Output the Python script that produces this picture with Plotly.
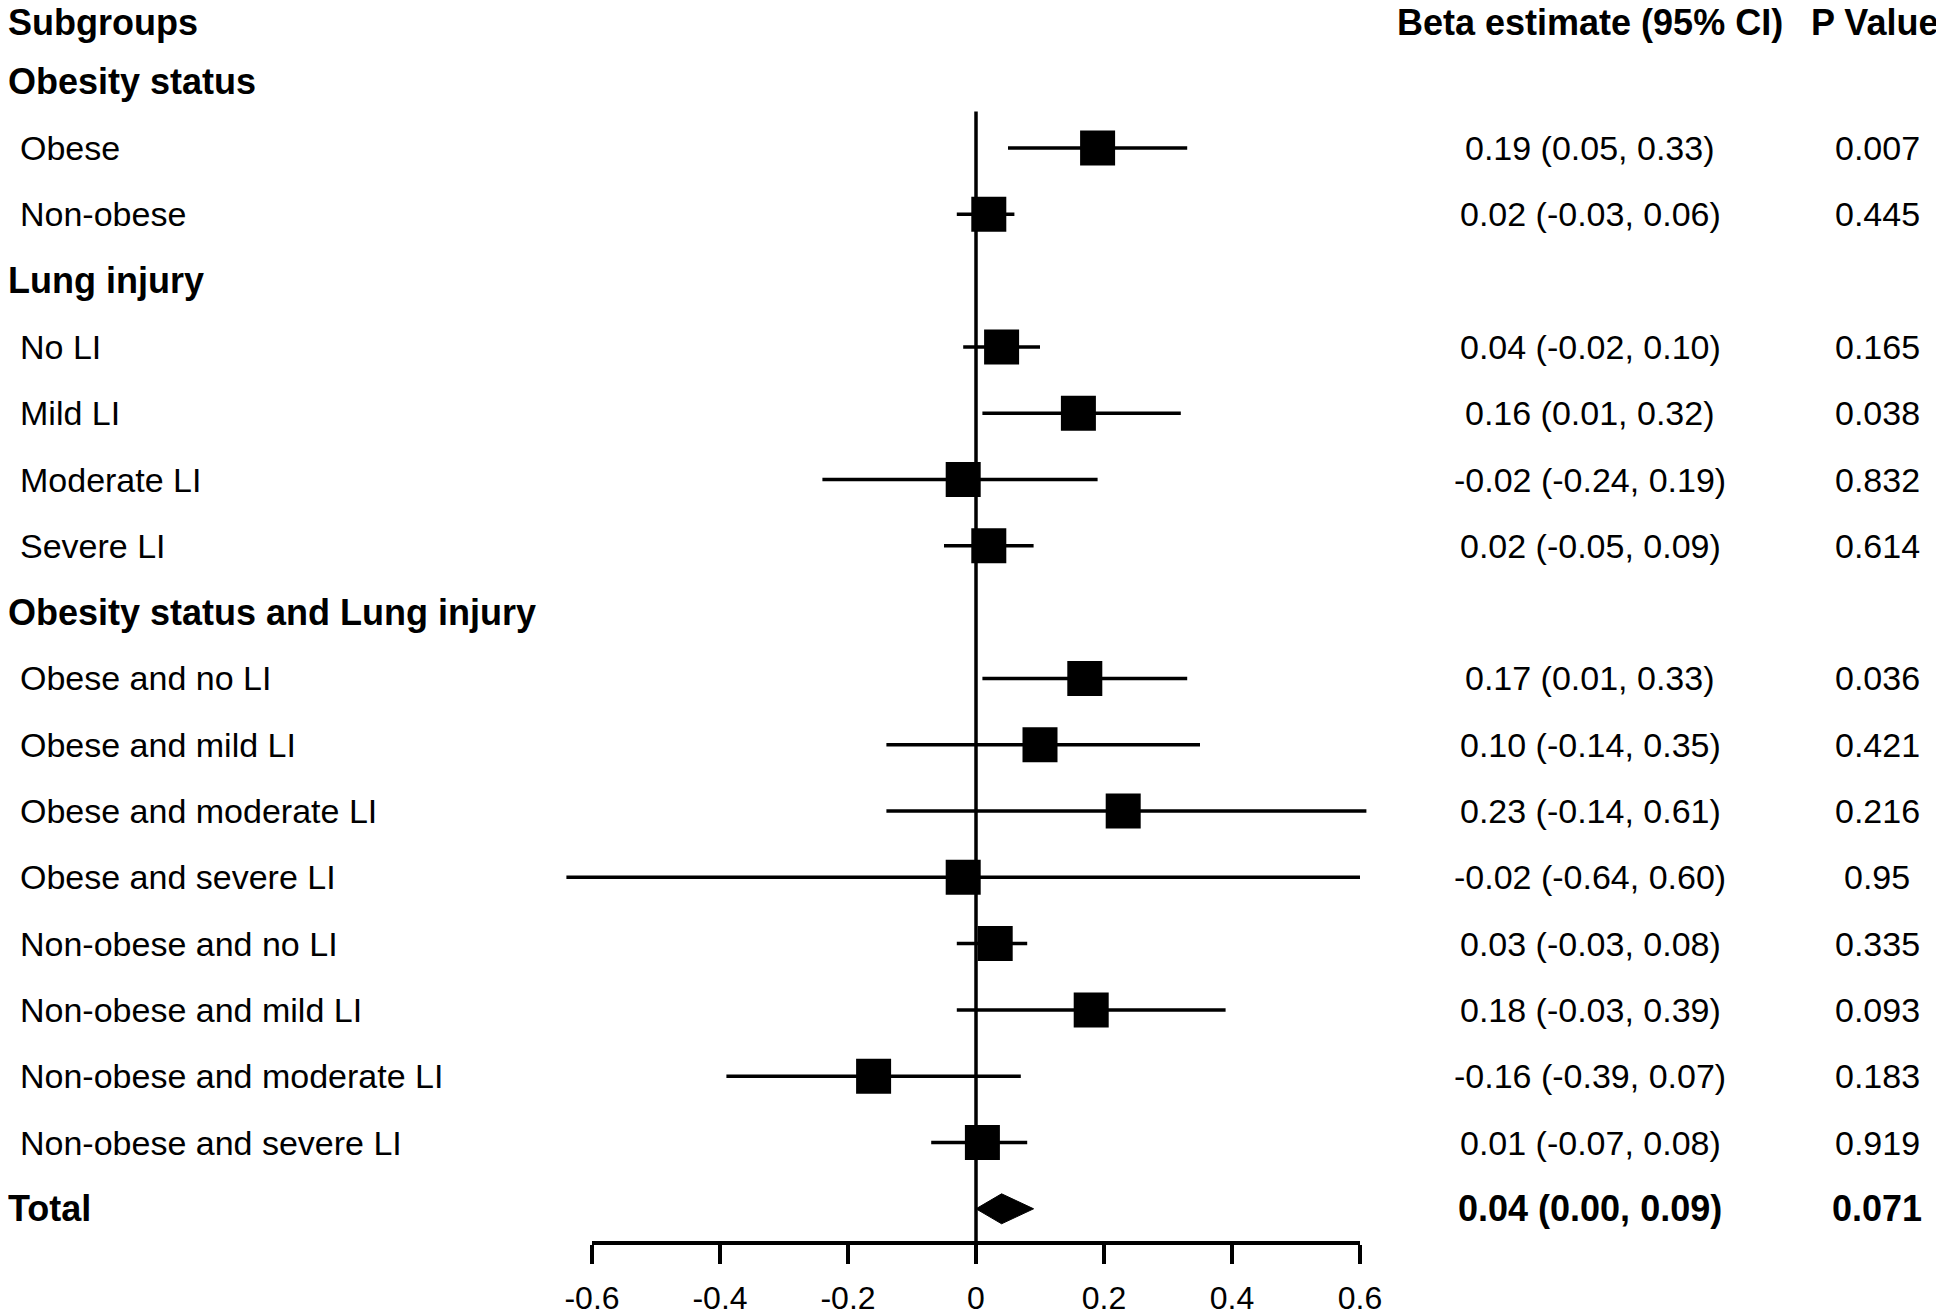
import plotly.graph_objects as go

# ---------------- data ----------------
group_titles = ["Obesity status", "Lung injury", "Obesity status and Lung injury"]
group_sizes = [2, 4, 8]

subgroups = ["Obese", "Non-obese",
             "No LI", "Mild LI", "Moderate LI", "Severe LI",
             "Obese and no LI", "Obese and mild LI", "Obese and moderate LI",
             "Obese and severe LI", "Non-obese and no LI", "Non-obese and mild LI",
             "Non-obese and moderate LI", "Non-obese and severe LI"]
estimate = [0.19, 0.02, 0.04, 0.16, -0.02, 0.02, 0.17, 0.10, 0.23, -0.02, 0.03, 0.18, -0.16, 0.01]
ci_low = [0.05, -0.03, -0.02, 0.01, -0.24, -0.05, 0.01, -0.14, -0.14, -0.64, -0.03, -0.03, -0.39, -0.07]
ci_high = [0.33, 0.06, 0.10, 0.32, 0.19, 0.09, 0.33, 0.35, 0.61, 0.60, 0.08, 0.39, 0.07, 0.08]
p_values = ["0.007", "0.445", "0.165", "0.038", "0.832", "0.614", "0.036", "0.421",
            "0.216", "0.95", "0.335", "0.093", "0.183", "0.919"]

total_label = "Total"
total_est, total_low, total_high = 0.04, 0.00, 0.09
total_p = "0.071"

tick_vals = [-0.6, -0.4, -0.2, 0, 0.2, 0.4, 0.6]
tick_text = ["-0.6", "-0.4", "-0.2", "0", "0.2", "0.4", "0.6"]

header_left = "Subgroups"
header_ci = "Beta estimate (95% CI)"
header_p = "P Value"

# ---------------- layout helpers ----------------
W, H = 1944, 1312
OFF = 8  # page body margin compensation
FONT = "Liberation Sans, Arial, sans-serif"
reg = dict(family=FONT, size=34, color="black")
bold = dict(family=FONT, size=36, color="black")

rows_item = []
rows_header = []
r = 1
for title, n in zip(group_titles, group_sizes):
    rows_header.append(r)
    r += 1
    for _ in range(n):
        rows_item.append(r)
        r += 1
row_total = r

def fmt(e, lo, hi):
    return f"{e:.2f} ({lo:.2f}, {hi:.2f})"

fig = go.Figure()

# CI lines
xs, ys = [], []
for lo, hi, rr in zip(ci_low, ci_high, rows_item):
    xs += [lo, hi, None]
    ys += [rr, rr, None]
fig.add_trace(go.Scatter(x=xs, y=ys, mode="lines", line=dict(color="black", width=3.5),
                         hoverinfo="skip", showlegend=False))

# zero reference line
fig.add_trace(go.Scatter(x=[0, 0], y=[rows_item[0] - 0.55, row_total + 1.3], mode="lines",
                         line=dict(color="black", width=3.5), hoverinfo="skip", showlegend=False))

# squares
fig.add_trace(go.Scatter(x=estimate, y=rows_item, mode="markers",
                         marker=dict(symbol="square", size=35, color="black", line=dict(width=0)),
                         hoverinfo="skip", showlegend=False))

# diamond for total
h = 0.226
fig.add_trace(go.Scatter(x=[total_low, total_est, total_high, total_est, total_low],
                         y=[row_total, row_total - h, row_total, row_total + h, row_total],
                         mode="lines", fill="toself", fillcolor="black",
                         line=dict(color="black", width=1), hoverinfo="skip", showlegend=False))

# invisible trace for the visible axis
fig.add_trace(go.Scatter(x=tick_vals, y=[row_total + 1] * len(tick_vals), xaxis="x2", yaxis="y",
                         mode="markers", marker=dict(opacity=0), hoverinfo="skip", showlegend=False))

ann = []
def add_text(text, x_px, row, font, anchor, yshift=0):
    ann.append(dict(text=text, x=x_px / W, xref="paper", y=row, yref="y",
                    xanchor=anchor, yanchor="middle", showarrow=False, font=font,
                    yshift=yshift))

left_bold_px = -2
left_item_px = 10
ci_px = 1590 - OFF
p_px = 1877 - OFF

add_text(f"<b>{header_left}</b>", left_bold_px, 0, bold, "left", yshift=-7)
add_text(f"<b>{header_ci}</b>", ci_px, 0, bold, "center", yshift=-7)
add_text(f"<b>{header_p}</b>", p_px - 3, 0, bold, "center", yshift=-7)
for t, rr in zip(group_titles, rows_header):
    add_text(f"<b>{t}</b>", left_bold_px, rr, bold, "left")
for name, e, lo, hi, p, rr in zip(subgroups, estimate, ci_low, ci_high, p_values, rows_item):
    add_text(name, left_item_px, rr, reg, "left")
    add_text(fmt(e, lo, hi), ci_px, rr, reg, "center")
    add_text(p, p_px, rr, reg, "center")
add_text(f"<b>{total_label}</b>", left_bold_px, row_total, bold, "left")
add_text(f"<b>{fmt(total_est, total_low, total_high)}</b>", ci_px, row_total, bold, "center")
add_text(f"<b>{total_p}</b>", p_px, row_total, bold, "center")

x0_px, px_per_unit = 976 - OFF, 640
row0_px, px_per_row = 15.4 - OFF, 66.3
axis_px = 1241 - OFF

fig.update_layout(
    width=W, height=H,
    margin=dict(l=0, r=0, t=0, b=0, autoexpand=False),
    paper_bgcolor="white", plot_bgcolor="rgba(0,0,0,0)",
    showlegend=False,
    annotations=ann,
    xaxis=dict(domain=[0, 1], range=[-x0_px / px_per_unit, (W - x0_px) / px_per_unit],
               visible=False, fixedrange=True),
    xaxis2=dict(domain=[(x0_px - 0.6 * px_per_unit) / W, (x0_px + 0.6 * px_per_unit) / W],
                anchor="y", range=[-0.6, 0.6], tickmode="array", tickvals=tick_vals,
                ticktext=tick_text, showline=True, linecolor="black", linewidth=4,
                ticks="outside", ticklen=19, tickwidth=4, tickcolor="black",
                ticklabelstandoff=7, automargin=False,
                showgrid=False, zeroline=False, tickfont=dict(family=FONT, size=32, color="black")),
    yaxis=dict(domain=[(H - axis_px) / H, 1],
               range=[(axis_px - row0_px) / px_per_row, -row0_px / px_per_row],
               visible=False, fixedrange=True),
)

fig.write_html("out.html")
